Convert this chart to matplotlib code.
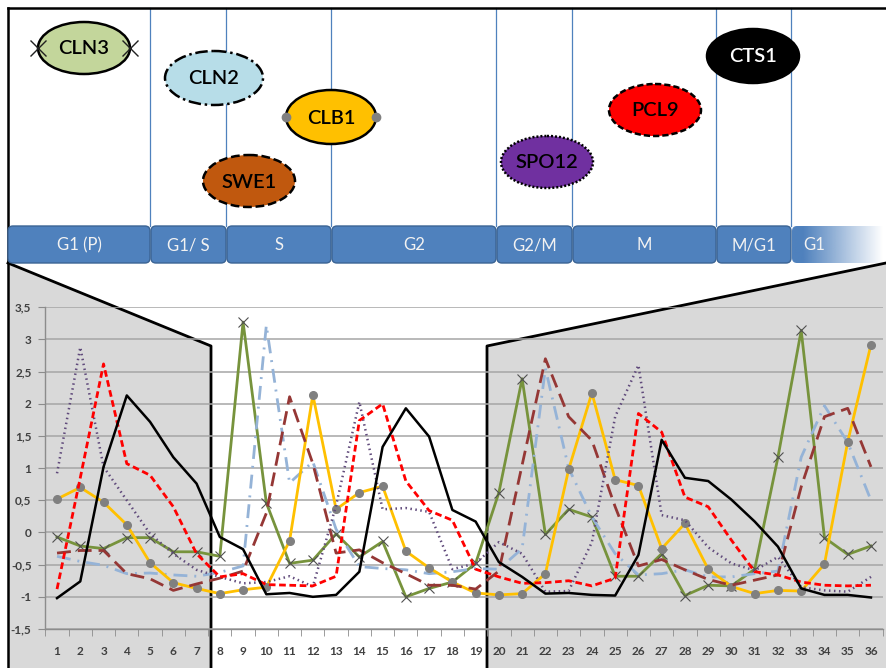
import matplotlib
matplotlib.use("Agg")
import matplotlib.pyplot as plt
from matplotlib.patches import Ellipse, FancyBboxPatch, Polygon
from matplotlib.lines import Line2D
import numpy as np

# ---------------- data ----------------
categories = [str(i) for i in range(1, 37)]
ytick_values = [-1.5, -1.0, -0.5, 0.0, 0.5, 1.0, 1.5, 2.0, 2.5, 3.0, 3.5]
ytick_labels = ["-1,5", "-1", "-0,5", "0", "0,5", "1", "1,5", "2", "2,5", "3", "3,5"]

CLN3 = [-0.07, -0.21, -0.25, -0.08, -0.08, -0.30, -0.30, -0.37, 3.27, 0.46, -0.48, -0.43,
        -0.02, -0.38, -0.14, -1.00, -0.87, -0.77, -0.48, 0.62, 2.39, -0.03, 0.36, 0.24,
        -0.68, -0.68, -0.33, -0.98, -0.82, -0.83, -0.57, 1.17, 3.14, -0.08, -0.34, -0.21]
CLN2 = [-0.37, -0.45, -0.51, -0.64, -0.63, -0.66, -0.68, -0.62, -0.52, 3.22, 0.77, 1.10,
        0.05, -0.53, -0.56, -0.58, -0.64, -0.61, -0.56, -0.57, -0.25, 2.55, 1.00, 0.24,
        -0.33, -0.66, -0.64, -0.58, -0.69, -0.69, -0.64, -0.60, 1.17, 1.97, 1.40, 0.50]
CLB1 = [0.52, 0.70, 0.47, 0.12, -0.47, -0.78, -0.87, -0.95, -0.89, -0.85, -0.13, 2.14,
        0.36, 0.62, 0.72, -0.29, -0.55, -0.77, -0.94, -0.97, -0.95, -0.64, 0.98, 2.17,
        0.82, 0.73, -0.25, 0.14, -0.57, -0.84, -0.95, -0.90, -0.91, -0.49, 1.41, 2.92]
SWE1 = [-0.32, -0.28, -0.28, -0.64, -0.72, -0.90, -0.80, -0.71, -0.60, 0.30, 2.11, 1.07,
        -0.32, -0.27, -0.47, -0.64, -0.82, -0.82, -0.88, -0.60, 1.05, 2.70, 1.80, 1.43,
        0.40, -0.52, -0.42, -0.58, -0.73, -0.82, -0.74, -0.66, 0.71, 1.80, 1.93, 1.02]
SPO12 = [0.92, 2.88, 1.02, 0.50, -0.02, -0.33, -0.58, -0.69, -0.79, -0.77, -0.68, -0.84,
         0.42, 2.03, 0.36, 0.38, 0.32, -0.57, -0.48, -0.15, -0.33, -0.92, -0.91, -0.15,
         1.80, 2.60, 0.27, 0.19, -0.23, -0.48, -0.59, -0.38, -0.85, -0.90, -0.92, -0.69]
PCL9 = [-0.88, 0.85, 2.62, 1.07, 0.89, 0.40, -0.33, -0.69, -0.64, -0.81, -0.82, -0.83,
        -0.68, 1.74, 2.00, 0.80, 0.34, 0.19, -0.57, -0.69, -0.79, -0.78, -0.75, -0.83,
        -0.71, 1.85, 1.56, 0.55, 0.40, -0.12, -0.61, -0.66, -0.77, -0.82, -0.83, -0.82]
CTS1 = [-1.02, -0.76, 1.02, 2.13, 1.72, 1.17, 0.76, -0.07, -0.26, -0.96, -0.94, -1.00,
        -0.97, -0.61, 1.33, 1.93, 1.49, 0.35, 0.17, -0.46, -0.69, -0.95, -0.94, -0.97,
        -0.98, -0.35, 1.44, 0.85, 0.80, 0.51, 0.17, -0.22, -0.87, -0.97, -0.97, -1.01]

phase_labels = ["G1 (P)", "G1/ S", "S", "G2", "G2/M", "M", "M/G1", "G1"]
gene_labels = ["CLN3", "CLN2", "CLB1", "SWE1", "SPO12", "PCL9", "CTS1"]

# ---------------- layout / style (pixels) ----------------
W, H = 886, 668
FONT = ["Lato", "DejaVu Sans"]
phase_edges = [8, 151, 227, 332, 497, 573, 717, 792, 892]
divider_x = [150.5, 226, 331, 496, 572, 716, 791]
bar_top, bar_bot = 226, 263

ellipse_layout = {
    "CLN3": dict(c=(84, 48), w=92, h=52, fc="#C3D69B", ls="-", tc="black"),
    "CLN2": dict(c=(214, 78), w=98, h=54, fc="#B7DDE8", ls=(0, (5, 1.5, 1, 1.5)), tc="black"),
    "CLB1": dict(c=(331, 117), w=90, h=54, fc="#FFC000", ls="-", tc="black"),
    "SWE1": dict(c=(249, 181), w=92, h=52, fc="#C0580E", ls=(0, (3.5, 1.5)), tc="black"),
    "SPO12": dict(c=(547, 162), w=92, h=52, fc="#7030A0", ls=(0, (0.8, 0.8)), tc="black"),
    "PCL9": dict(c=(655, 110), w=92, h=52, fc="#FF0000", ls=(0, (2.5, 1.2)), tc="black"),
    "CTS1": dict(c=(753, 56), w=92, h=54, fc="#000000", ls="-", tc="white"),
}

fig = plt.figure(figsize=(W / 100, H / 100), dpi=100)
fig.patch.set_facecolor("white")

bg = fig.add_axes([0, 0, 1, 1], zorder=0)
bg.set_xlim(0, W)
bg.set_ylim(H, 0)
bg.axis("off")

# grey zoom polygons
bg.add_patch(Polygon([(8, 263), (211, 346), (211, H), (8, H)], closed=True,
                     fc="#D9D9D9", ec="none", zorder=1))
bg.add_patch(Polygon([(487, 346), (W, 263), (W, H), (487, H)], closed=True,
                     fc="#D9D9D9", ec="none", zorder=1))
bg.add_line(Line2D([8, 211, 211], [263, 346, H], color="black", lw=2.0, zorder=3))
bg.add_line(Line2D([487, 487, W], [H, 346, 263], color="black", lw=2.0, zorder=3))

# top frame
bg.add_line(Line2D([8, W], [8, 8], color="black", lw=1.8, zorder=3))
bg.add_line(Line2D([8, 8], [8, H], color="black", lw=1.8, zorder=3))

# dividers
for xd in divider_x:
    bg.add_line(Line2D([xd, xd], [8, bar_top], color="#4F81BD", lw=0.9, zorder=2))

# phase bar
for i, lab in enumerate(phase_labels):
    x0 = phase_edges[i]
    x1 = phase_edges[i + 1] - 1
    box = FancyBboxPatch((x0, bar_top), x1 - x0, bar_bot - bar_top,
                         boxstyle="round,pad=0,rounding_size=5",
                         fc="#4F81BD", ec="#3B6494", lw=1.0, zorder=4)
    bg.add_patch(box)
    if i == len(phase_labels) - 1:
        box.set_facecolor("none")
        box.set_edgecolor("none")
        grad = np.linspace(0, 1, 200)
        alpha = np.clip(1 - (grad - 0.12) / 0.85, 0, 1)
        img = np.zeros((1, 200, 4))
        img[..., 0] = 0x4F / 255
        img[..., 1] = 0x81 / 255
        img[..., 2] = 0xBD / 255
        img[..., 3] = alpha
        im = bg.imshow(img, extent=(x0, W, bar_bot, bar_top), aspect="auto",
                       zorder=4, interpolation="bilinear")
        im.set_clip_path(box)
        bg.text(814, (bar_top + bar_bot) / 2 + 1, lab, color="#F2F2F2", fontsize=12,
                family=FONT, ha="center", va="center", zorder=5)
    else:
        bg.text((x0 + x1) / 2, (bar_top + bar_bot) / 2 + 1, lab, color="#F2F2F2",
                fontsize=12, family=FONT, ha="center", va="center", zorder=5)
bg.set_xlim(0, W)
bg.set_ylim(H, 0)

# gene ellipses
for g in gene_labels:
    L = ellipse_layout[g]
    e = Ellipse(L["c"], L["w"], L["h"], fc=L["fc"], ec="black", lw=1.8,
                ls=L["ls"], zorder=5)
    bg.add_patch(e)
    bg.text(L["c"][0], L["c"][1] + 1, g, color=L["tc"], fontsize=14.5, family=FONT,
            fontweight="semibold", ha="center", va="center", zorder=6)
cx, cy = ellipse_layout["CLN3"]["c"]
hw = ellipse_layout["CLN3"]["w"] / 2
bg.add_line(Line2D([cx - hw, cx + hw], [cy, cy], ls="none", marker="x", ms=11,
                   mec="#202020", mew=1.0, zorder=7))
cx, cy = ellipse_layout["CLB1"]["c"]
hw = ellipse_layout["CLB1"]["w"] / 2
bg.add_line(Line2D([cx - hw, cx + hw], [cy, cy], ls="none", marker="o", ms=6,
                   mfc="#808080", mec="#808080", zorder=7))

# ---------------- chart ----------------
left, right, top, bottom = 45.4, 882.6, 307.3, 629.0
ax = fig.add_axes([left / W, (H - bottom) / H, (right - left) / W, (bottom - top) / H],
                  zorder=2)
ax.patch.set_alpha(0)
x = np.arange(1, len(categories) + 1)

ax.plot(x, CLN3, color="#77933C", lw=2.0, marker="x", ms=7, mec="#505050",
        mew=0.8, zorder=3)
ax.plot(x, CLN2, color="#95B3D7", lw=2.0, ls=(0, (5, 2.5, 0.7, 2.5)), zorder=3)
ax.plot(x, CLB1, color="#FFC000", lw=2.0, marker="o", ms=5.5, mfc="#808080",
        mec="#808080", zorder=3)
ax.plot(x, SWE1, color="#953735", lw=2.0, ls=(0, (5, 2.5)), zorder=3)
ax.plot(x, SPO12, color="#604A7B", lw=1.8, ls=(0, (0.6, 1.4)), zorder=3)
ax.plot(x, PCL9, color="#FF0000", lw=2.0, ls=(0, (2.4, 1.3)), zorder=3)
ax.plot(x, CTS1, color="#000000", lw=1.8, zorder=3)

ax.set_xlim(0.5, len(categories) + 0.5)
ax.set_ylim(ytick_values[0], ytick_values[-1])
ax.set_yticks(ytick_values)
ax.set_yticklabels(ytick_labels)
ax.set_xticks(x)
ax.set_xticklabels(categories)
ax.set_xticks(np.arange(0.5, len(categories) + 1, 1.0), minor=True)
ax.yaxis.grid(True, color="#A6A6A6", lw=1.1)
ax.set_axisbelow(True)
for s in ["top", "right"]:
    ax.spines[s].set_visible(False)
for s in ["left", "bottom"]:
    ax.spines[s].set_color("#8C8C8C")
    ax.spines[s].set_linewidth(1.0)
ax.tick_params(axis="x", which="major", length=0, pad=12)
ax.tick_params(axis="x", which="minor", length=5, color="#8C8C8C", direction="out")
ax.tick_params(axis="y", length=5, color="#8C8C8C", direction="out", pad=5)
for lab in ax.get_xticklabels() + ax.get_yticklabels():
    lab.set_family(FONT)
    lab.set_fontweight("bold")
    lab.set_fontsize(8.5)
    lab.set_color("#404040")

fig.savefig("out.png", dpi=100, facecolor="white")
